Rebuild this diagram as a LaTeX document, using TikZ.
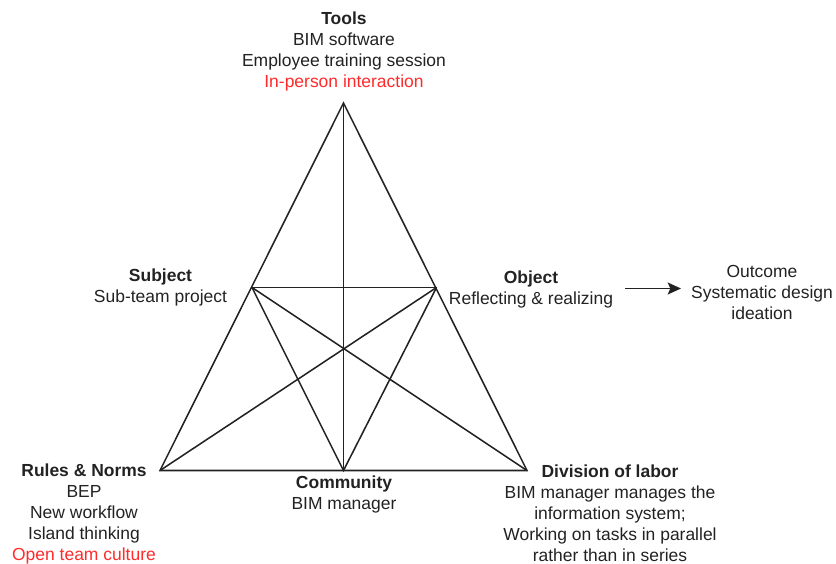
\documentclass[tikz,border=0pt]{standalone}
\usepackage{fontspec}
\setmainfont{Liberation Sans}
\usetikzlibrary{arrows.meta}
\definecolor{ink}{HTML}{222222}
\definecolor{accent}{HTML}{FF2A2A}
\tikzset{
  edge/.style={draw=ink, line width=1.15pt, line join=miter},
  label/.style={inner sep=0pt, align=center, text=ink,
    font=\fontsize{13.1pt}{15.75pt}\selectfont},
  flow/.style={edge, -{Stealth[length=10pt, width=9pt, inset=2pt]}},
}
\begin{document}
\begin{tikzpicture}[x=0.75pt, y=-0.75pt]
  \useasboundingbox (0,0) rectangle (836,564);

  % vertices of the activity triangle
  \coordinate (tool) at (343.5,103);
  \coordinate (subj) at (252,287.5);
  \coordinate (obj)  at (436.5,287.5);
  \coordinate (rule) at (160,470.5);
  \coordinate (comm) at (343.5,470.5);
  \coordinate (div)  at (527,470.5);

  % outer triangle and inner connections
  \draw[edge] (tool) -- (rule) -- (div) -- cycle;
  \draw[edge] (subj) -- (obj);
  \draw[edge] (tool) -- (comm);
  \draw[edge] (subj) -- (div);
  \draw[edge] (obj) -- (rule);
  \draw[edge] (subj) -- (comm) -- (obj);

  % labels
  \node[label] (ltool) at (344,51.5) {\textbf{Tools}\\BIM software\\Employee training session\\\textcolor{accent}{In-person interaction}};
  \node[label] (lsubj) at (160.5,287.5) {\textbf{Subject}\\Sub-team project};
  \node[label] (lobj) at (531,289) {\textbf{Object}\\Reflecting \& realizing};
  \node[label] (lout) at (762,292) {Outcome\\Systematic design\\ideation};
  \node[label] (lrule) at (84,513.5) {\textbf{Rules \& Norms}\\BEP\\New workflow\\Island thinking\\\textcolor{accent}{Open team culture}};
  \node[label] (lcomm) at (344,494.5) {\textbf{Community}\\BIM manager};
  \node[label] (ldiv) at (610,513) {\textbf{Division of labor}\\BIM manager manages the\\information system;\\Working on tasks in parallel\\rather than in series};

  % object leads to outcome
  \coordinate (arrs) at (625,288.5);
  \coordinate (arre) at (681,288.5);
  \draw[flow] (arrs) -- (arre);
\end{tikzpicture}
\end{document}
